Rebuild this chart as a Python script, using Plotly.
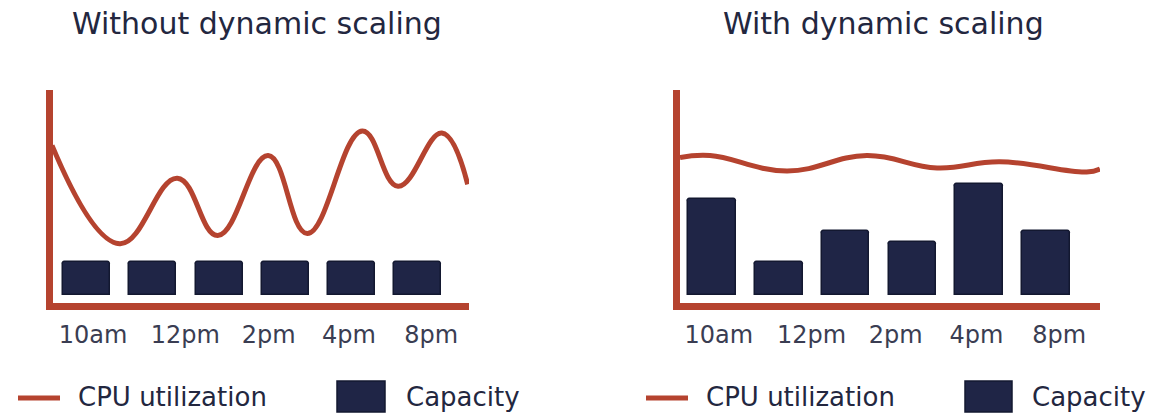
import plotly.graph_objects as go

# ---- data -------------------------------------------------------------
hours = ["10am", "12pm", "2pm", "4pm", "8pm"]
slots = [0, 1, 2, 3, 4, 5]

static_capacity = [16, 16, 16, 16, 16, 16]
dynamic_capacity = [47, 16, 31, 26, 54, 31]

static_cpu_x = [-0.52, 0.50, 1.37, 1.98, 2.74, 3.33, 4.16, 4.70, 5.36, 5.75]
static_cpu_y = [73, 25, 57, 29, 68, 30, 80, 53, 79, 54]

dynamic_cpu_x = [-0.48, -0.03, 1.12, 2.32, 3.37, 4.31, 5.61, 5.81]
dynamic_cpu_y = [67, 68, 60.5, 68, 62, 65, 60, 61.5]

# ---- style ------------------------------------------------------------
W, H = 1156, 417
RED = "#b5432f"
NAVY = "#1f2546"
NAVY_EDGE = "#131830"
TEXT = "#23273f"
TICK = "#3a3d52"
FONT = "DejaVu Sans"
hour_ticks = [0.1, 1.49, 2.75, 3.96, 5.2]


def px_x(x):
    return x / W


def px_y(y):
    return 1 - y / H


fig = go.Figure()

panels = [
    ("x", "y", static_capacity, static_cpu_x, static_cpu_y),
    ("x2", "y2", dynamic_capacity, dynamic_cpu_x, dynamic_cpu_y),
]
for xa, ya, cap, cx, cy in panels:
    fig.add_trace(go.Bar(
        x=slots, y=cap, xaxis=xa, yaxis=ya, width=0.71, name="Capacity",
        marker=dict(color=NAVY, line=dict(color=NAVY_EDGE, width=1.5),
                    cornerradius=3),
        showlegend=False, hoverinfo="skip",
    ))
    fig.add_trace(go.Scatter(
        x=cx, y=cy, xaxis=xa, yaxis=ya, mode="lines", name="CPU utilization",
        line=dict(color=RED, width=5, shape="spline", smoothing=1.2),
        showlegend=False, hoverinfo="skip",
    ))

ydom = [px_y(303), px_y(90)]
axis_common = dict(showgrid=False, zeroline=False, showline=True,
                   linecolor=RED, linewidth=7, fixedrange=True)
tick_font = dict(size=24, color=TICK, family=FONT)

fig.update_layout(
    width=W, height=H,
    margin=dict(l=0, r=0, t=0, b=0),
    paper_bgcolor="white", plot_bgcolor="white",
    font=dict(family=FONT, color=TEXT),
    bargap=0,
    xaxis=dict(domain=[px_x(53), px_x(469)], range=[-0.505, 5.77],
               tickvals=hour_ticks, ticktext=hours, ticks="",
               tickfont=tick_font, ticklabelstandoff=4, **axis_common),
    yaxis=dict(domain=ydom, range=[-3.9, 100], showticklabels=False,
               ticks="", **axis_common),
    xaxis2=dict(domain=[px_x(680), px_x(1100)], range=[-0.48, 5.81],
                tickvals=hour_ticks, ticktext=hours, ticks="",
                tickfont=tick_font, ticklabelstandoff=4,
                anchor="y2", **axis_common),
    yaxis2=dict(domain=ydom, range=[-3.9, 100], showticklabels=False,
                ticks="", anchor="x2", **axis_common),
)

# panel titles
for text, cx in [("Without dynamic scaling", 257), ("With dynamic scaling", 884)]:
    fig.add_annotation(text=text, xref="paper", yref="paper",
                       x=px_x(cx), y=px_y(24), xanchor="center", yanchor="middle",
                       showarrow=False, font=dict(size=30, color=TEXT, family=FONT))

# legends drawn beneath each panel
legend_rows = [
    dict(line=(18, 60), cpu_text=76, box=(337, 385), cap_text=404),
    dict(line=(646, 688), cpu_text=704, box=(965, 1012), cap_text=1030),
]
for row in legend_rows:
    fig.add_shape(type="line", xref="paper", yref="paper",
                  x0=px_x(row["line"][0]), x1=px_x(row["line"][1]),
                  y0=px_y(398), y1=px_y(398),
                  line=dict(color=RED, width=5))
    fig.add_shape(type="rect", xref="paper", yref="paper",
                  x0=px_x(row["box"][0]), x1=px_x(row["box"][1]),
                  y0=px_y(412), y1=px_y(381),
                  fillcolor=NAVY, line=dict(color=NAVY_EDGE, width=1.5))
    fig.add_annotation(text="CPU utilization", xref="paper", yref="paper",
                       x=px_x(row["cpu_text"]), y=px_y(397),
                       xanchor="left", yanchor="middle", showarrow=False,
                       font=dict(size=26, color=TEXT, family=FONT))
    fig.add_annotation(text="Capacity", xref="paper", yref="paper",
                       x=px_x(row["cap_text"]), y=px_y(397),
                       xanchor="left", yanchor="middle", showarrow=False,
                       font=dict(size=26, color=TEXT, family=FONT))

fig.write_html("out.html", config=dict(displayModeBar=False))
